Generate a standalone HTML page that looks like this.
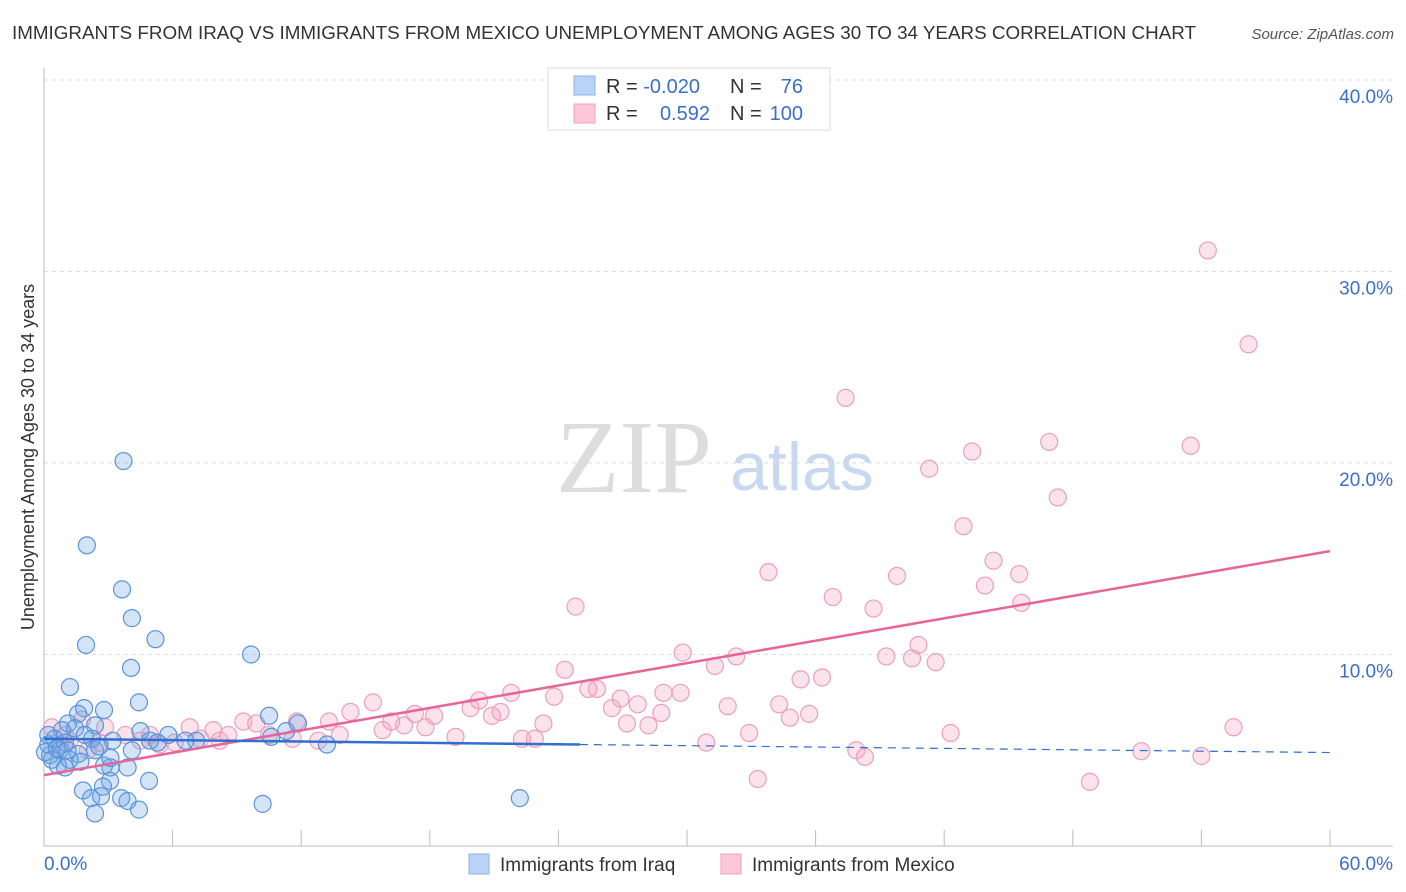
<!DOCTYPE html>
<html><head><meta charset="utf-8"><style>
body{margin:0;background:#fff;font-family:"Liberation Sans",sans-serif;}
</style></head><body>
<svg id="c" width="1406" height="892" style="display:block">
<text x="12" y="39" font-size="18" fill="#333" textLength="1184" lengthAdjust="spacingAndGlyphs">IMMIGRANTS FROM IRAQ VS IMMIGRANTS FROM MEXICO UNEMPLOYMENT AMONG AGES 30 TO 34 YEARS CORRELATION CHART</text>
<text x="1394" y="39" font-size="15" fill="#555" font-style="italic" text-anchor="end">Source: ZipAtlas.com</text>
<text x="634" y="492" font-size="104" fill="#ddd" font-family="Liberation Serif,serif" text-anchor="middle">ZIP</text>
<text x="802" y="490" font-size="68" fill="#c8d8f0" text-anchor="middle">atlas</text>
<text transform="translate(34,457) rotate(-90)" font-size="18" fill="#333" text-anchor="middle">Unemployment Among Ages 30 to 34 years</text>
<g id="axes"></g><g id="marks"></g>
<g>
<rect x="548" y="68" width="282" height="62" fill="#fff" stroke="#ddd"/>
<rect x="574" y="76" width="21" height="19" fill="#b8d3f5" stroke="#8ab3e8"/>
<rect x="574" y="104" width="21" height="19" fill="#fcc8d8" stroke="#f0a0bc"/>
<text x="606" y="93" font-size="20" fill="#333">R = <tspan fill="#3a6fcc">-0.020</tspan></text>
<text x="730" y="93" font-size="20" fill="#333">N =</text><text x="803" y="93" font-size="20" fill="#3a6fcc" text-anchor="end">76</text>
<text x="606" y="120" font-size="20" fill="#333">R = </text><text x="710" y="120" font-size="20" fill="#3a6fcc" text-anchor="end">0.592</text>
<text x="730" y="120" font-size="20" fill="#333">N =</text><text x="803" y="120" font-size="20" fill="#3a6fcc" text-anchor="end">100</text>
</g>
<g>
<rect x="469" y="854" width="20" height="20" fill="#b8d3f5" stroke="#8ab3e8"/>
<text x="500" y="871" font-size="19" fill="#333">Immigrants from Iraq</text>
<rect x="721" y="854" width="20" height="20" fill="#fcc8d8" stroke="#f0a0bc"/>
<text x="752" y="871" font-size="19" fill="#333">Immigrants from Mexico</text>
</g>
</svg>
<script>
const yTicks=[10,20,30,40];
const yTickLabels=["10.0%","20.0%","30.0%","40.0%"];
const xTickLabels=["0.0%","60.0%"];
const iraqX=[3.71,2.0,3.64,1.96,4.1,5.2,4.06,9.66,1.21,4.43,1.87,2.8,10.5,1.59,2.38,1.12,4.5,5.8,11.85,11.3,10.6,13.2,22.2,10.2,4.9,3.08,1.82,2.75,2.2,2.66,3.6,3.9,2.38,4.43,4.1,3.9,3.1,2.8,3.1,2.38,1.6,0.98,0.65,0.28,0.2,0.5,0.84,1.45,0.75,1.2,1.7,0.37,0.05,4.95,6.6,7.1,5.3,3.2,2.24,0.98,2.57,0.2,0.6,1.1,1.9];
const iraqY=[20.1,15.7,13.4,10.5,11.9,10.8,9.3,10.0,8.3,7.5,7.2,7.1,6.8,6.9,6.3,6.4,6.0,5.8,6.4,6.0,5.7,5.3,2.5,2.2,3.4,3.4,2.9,3.1,2.5,2.6,2.5,2.35,1.7,1.9,5.0,4.1,4.1,4.2,4.6,5.0,4.8,4.1,4.2,4.75,5.3,5.6,6.05,6.15,5.0,4.5,4.4,4.5,4.9,5.5,5.5,5.5,5.4,5.5,5.6,5.4,5.2,5.8,5.1,5.0,5.8];
const mexX=[54.3,56.2,37.4,46.9,53.5,43.3,41.3,47.3,42.9,44.3,33.8,39.8,45.5,43.9,36.8,45.6,38.7,24.8,40.8,29.8,32.3,39.3,40.5,41.6,31.3,24.3,36.3,35.3,21.8,25.4,25.8,28.9,29.7,23.8,20.3,26.9,27.7,15.35,19.9,21.3,26.5,28.8,31.9,34.3,35.7,34.8,14.3,17.3,18.2,20.9,23.3,16.2,16.8,17.8,27.2,28.2,9.3,9.9,13.3,11.8,6.8,7.9,15.8,19.2,11.6,12.8,13.8,22.3,22.9,32.9,42.3,55.5,30.9,37.9,38.3,51.2,54.0,33.3,48.8,0.37,0.75,1.2,2.6,3.8,4.5,5.4,6.1,8.2,10.5,2.85,2.05,1.0,1.77,4.95,7.3,8.6];
const mexY=[31.1,26.2,23.4,21.1,20.9,20.6,19.7,18.2,16.7,14.9,14.3,14.1,14.2,13.6,13.0,12.7,12.4,12.5,10.5,10.1,9.9,9.9,9.8,9.6,9.4,9.2,8.8,8.7,8.0,8.2,8.2,8.0,8.0,7.8,7.6,7.7,7.4,7.5,7.2,7.0,7.2,6.95,7.3,7.4,6.9,6.7,7.0,6.9,6.8,6.8,6.4,6.5,6.3,6.2,6.4,6.3,6.5,6.4,6.5,6.5,6.2,6.05,6.05,5.7,5.6,5.5,5.8,5.6,5.6,5.9,5.9,6.2,5.4,5.0,4.65,4.95,4.7,3.5,3.35,6.2,5.3,5.5,5.4,5.8,5.5,5.3,5.4,5.5,5.8,6.2,5.0,5.8,6.6,5.8,5.6,5.8];
const iraqTrend=[5.6,-0.012];
const mexTrend=[3.7,0.195];
const NS='http://www.w3.org/2000/svg';
const X=v=>44+v/60*1286, Y=v=>846-v*19.15;
function mk(t,a,p){const e=document.createElementNS(NS,t);for(const k in a)e.setAttribute(k,a[k]);p.appendChild(e);return e;}
const ax=document.getElementById('axes'), mk_=document.getElementById('marks');
yTicks.forEach((t,i)=>{
 const g=mk('line',{x1:44,x2:1393,y1:Y(t),y2:Y(t),stroke:'#ddd','stroke-dasharray':'4,4'},ax);
 
 
 const l=mk('text',{x:1393,y:Y(t)+23,'font-size':19,fill:'#3a6fcc','text-anchor':'end'},ax);l.textContent=yTickLabels[i];
 
 
});
mk('line',{x1:44,x2:44,y1:68,y2:846,stroke:'#bbb'},ax);
mk('line',{x1:44,x2:1393,y1:846,y2:846,stroke:'#bbb'},ax);
for(let k=1;k<=10;k++){mk('line',{x1:X(k*6),x2:X(k*6),y1:830,y2:846,stroke:'#bbb'},ax);}
const xl0=mk('text',{x:44,y:870,'font-size':19,fill:'#3a6fcc'},ax);xl0.textContent=xTickLabels[0];


const xl1=mk('text',{x:1393,y:870,'font-size':19,fill:'#3a6fcc','text-anchor':'end'},ax);xl1.textContent=xTickLabels[1];


mexX.forEach((x,i)=>{const c=mk('circle',{cx:X(x),cy:Y(mexY[i]),r:8.5,fill:'rgba(246,160,190,0.3)',stroke:'#eaa0ba','stroke-width':1.2},mk_);
 
 });
iraqX.forEach((x,i)=>{const c=mk('circle',{cx:X(x),cy:Y(iraqY[i]),r:8.5,fill:'rgba(110,165,230,0.3)',stroke:'#5b93db','stroke-width':1.2},mk_);
 
 });
const tm=mk('line',{x1:X(0),y1:Y(mexTrend[0]),x2:X(60),y2:Y(mexTrend[0]+mexTrend[1]*60),stroke:'#e8659a','stroke-width':2.5},mk_);


const ti=mk('line',{x1:X(0),y1:Y(iraqTrend[0]),x2:X(25),y2:Y(iraqTrend[0]+iraqTrend[1]*25),stroke:'#2f6fd0','stroke-width':2.5},mk_);


const td=mk('line',{x1:X(25),y1:Y(iraqTrend[0]+iraqTrend[1]*25),x2:X(60),y2:Y(iraqTrend[0]+iraqTrend[1]*60),stroke:'#2f6fd0','stroke-width':1.2,'stroke-dasharray':'8,6'},mk_);


</script>
</body></html>
